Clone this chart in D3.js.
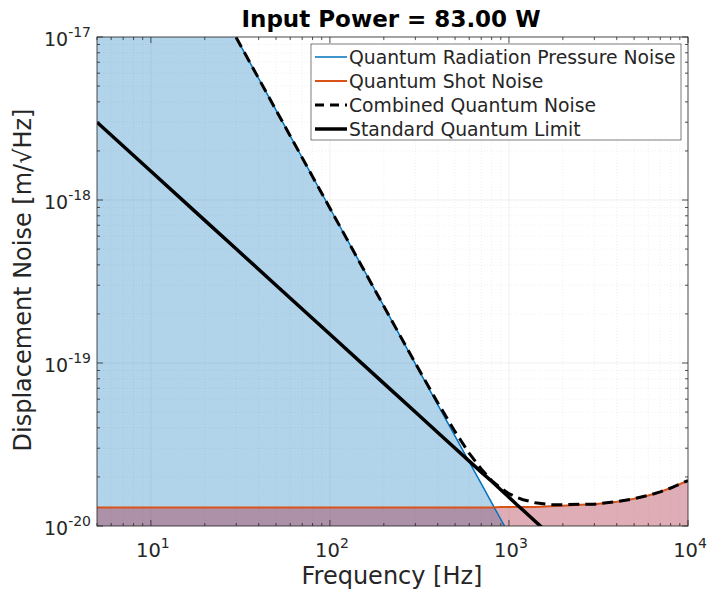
<!DOCTYPE html>
<head>
<meta charset="utf-8">
<title>Quantum Noise</title>
<script src="https://d3js.org/d3.v7.min.js"></script>
<style>
  body { margin: 0; background: #fff; }
  text { font-family: "DejaVu Sans", "Liberation Sans", sans-serif; fill: #262626; }
</style>
</head>
<body>
<div id="my_dataviz"></div>
<script>

// frequencies [Hz] where the curves were read
var freq = [5, 10, 20, 30, 50, 100, 200, 300, 400, 500, 600, 700, 800, 900, 1000,
            1100, 1200, 1400, 1700, 2000, 2500, 3000, 4000, 5000, 6000, 7000, 8000, 10000];

// quantum radiation pressure noise [m/sqrt(Hz)]
var radPressure = [3.56e-16, 8.90e-17, 2.23e-17, 9.89e-18, 3.56e-18, 8.90e-19, 2.23e-19, 9.89e-20,
                   5.56e-20, 3.56e-20, 2.47e-20, 1.82e-20, 1.39e-20, 1.10e-20, 8.90e-21,
                   7.36e-21, 6.18e-21, 4.54e-21, 3.08e-21, 2.23e-21, 1.42e-21, 9.9e-22,
                   5.6e-22, 3.6e-22, 2.5e-22, 1.8e-22, 1.4e-22, 8.9e-23];

// quantum shot noise
var shotNoise = [1.30e-20, 1.30e-20, 1.30e-20, 1.30e-20, 1.30e-20, 1.30e-20, 1.30e-20, 1.30e-20,
                 1.30e-20, 1.30e-20, 1.30e-20, 1.30e-20, 1.30e-20, 1.31e-20, 1.31e-20,
                 1.31e-20, 1.31e-20, 1.31e-20, 1.32e-20, 1.33e-20, 1.35e-20, 1.36e-20,
                 1.41e-20, 1.47e-20, 1.54e-20, 1.62e-20, 1.71e-20, 1.90e-20];

// combined quantum noise
var combined = [3.56e-16, 8.90e-17, 2.23e-17, 9.89e-18, 3.56e-18, 8.90e-19, 2.23e-19, 9.97e-20,
                5.71e-20, 3.79e-20, 2.79e-20, 2.24e-20, 1.90e-20, 1.71e-20, 1.58e-20,
                1.50e-20, 1.45e-20, 1.39e-20, 1.35e-20, 1.35e-20, 1.36e-20, 1.36e-20,
                1.41e-20, 1.47e-20, 1.54e-20, 1.62e-20, 1.71e-20, 1.90e-20];

// standard quantum limit
var sql = [3.0e-18, 1.5e-18, 7.5e-19, 5.0e-19, 3.0e-19, 1.5e-19, 7.5e-20, 5.0e-20,
           3.75e-20, 3.0e-20, 2.5e-20, 2.14e-20, 1.88e-20, 1.67e-20, 1.5e-20,
           1.36e-20, 1.25e-20, 1.07e-20, 8.8e-21, 7.5e-21, 6.0e-21, 5.0e-21,
           3.75e-21, 3.0e-21, 2.5e-21, 2.14e-21, 1.88e-21, 1.5e-21];

var xTicks = [10, 100, 1000, 10000];
var xExp = ["1", "2", "3", "4"];
var yTicks = [1e-20, 1e-19, 1e-18, 1e-17];
var yExp = ["-20", "-19", "-18", "-17"];

var legendNames = ["Quantum Radiation Pressure Noise", "Quantum Shot Noise",
                   "Combined Quantum Noise", "Standard Quantum Limit"];

var W = 709, H = 591;
var pL = 97, pR = 688, pT = 37, pB = 526;

var svg = d3.select("#my_dataviz").append("svg")
    .attr("width", W).attr("height", H);

var x = d3.scaleLog().domain([5, 10000]).range([pL, pR]);
var y = d3.scaleLog().domain([1e-20, 1e-17]).range([pB, pT]);

svg.append("clipPath").attr("id", "clip")
  .append("rect").attr("x", pL).attr("y", pT)
    .attr("width", pR - pL).attr("height", pB - pT);

var data = freq.map(function(f, i) {
  return { f: f, rp: radPressure[i], sn: shotNoise[i], c: combined[i], s: sql[i] };
});

// minor tick positions
var xMinor = [], yMinor = [];
[1, 10, 100, 1000].forEach(function(d) {
  for (var k = 2; k <= 9; k++) { var v = d * k; if (v >= 5 && v < 10000) xMinor.push(v); }
});
[1e-20, 1e-19, 1e-18].forEach(function(d) {
  for (var k = 2; k <= 9; k++) yMinor.push(d * k);
});

// grid (very faint, like the reference)
var grid = svg.append("g");
grid.selectAll(".gxm").data(xMinor).enter().append("line")
  .attr("x1", function(d) { return x(d); }).attr("x2", function(d) { return x(d); })
  .attr("y1", pT).attr("y2", pB)
  .attr("stroke", "#262626").attr("stroke-opacity", 0.07).attr("stroke-dasharray", "1,2");
grid.selectAll(".gym").data(yMinor).enter().append("line")
  .attr("y1", function(d) { return y(d); }).attr("y2", function(d) { return y(d); })
  .attr("x1", pL).attr("x2", pR)
  .attr("stroke", "#262626").attr("stroke-opacity", 0.07).attr("stroke-dasharray", "1,2");
grid.selectAll(".gx").data(xTicks).enter().append("line")
  .attr("x1", function(d) { return x(d); }).attr("x2", function(d) { return x(d); })
  .attr("y1", pT).attr("y2", pB)
  .attr("stroke", "#262626").attr("stroke-opacity", 0.07);
grid.selectAll(".gy").data(yTicks).enter().append("line")
  .attr("y1", function(d) { return y(d); }).attr("y2", function(d) { return y(d); })
  .attr("x1", pL).attr("x2", pR)
  .attr("stroke", "#262626").attr("stroke-opacity", 0.07);

var plot = svg.append("g").attr("clip-path", "url(#clip)");

// filled areas
var areaRP = d3.area().x(function(d) { return x(d.f); })
  .y0(pB).y1(function(d) { return y(d.rp); });
var areaSN = d3.area().x(function(d) { return x(d.f); })
  .y0(pB).y1(function(d) { return y(d.sn); });

plot.append("path").datum(data).attr("d", areaRP)
  .attr("fill", "#0072BD").attr("fill-opacity", 0.3);
plot.append("path").datum(data).attr("d", areaSN)
  .attr("fill", "#A2142F").attr("fill-opacity", 0.35);

function lineOf(key) {
  return d3.line().x(function(d) { return x(d.f); }).y(function(d) { return y(d[key]); });
}

plot.append("path").datum(data).attr("d", lineOf("rp"))
  .attr("fill", "none").attr("stroke", "#0072BD").attr("stroke-width", 1.5);
plot.append("path").datum(data).attr("d", lineOf("sn"))
  .attr("fill", "none").attr("stroke", "#D95319").attr("stroke-width", 2);
plot.append("path").datum(data).attr("d", lineOf("c"))
  .attr("fill", "none").attr("stroke", "#000").attr("stroke-width", 3)
  .attr("stroke-dasharray", "11,6");
plot.append("path").datum(data).attr("d", lineOf("s"))
  .attr("fill", "none").attr("stroke", "#000").attr("stroke-width", 3.5);

// axes (ticks pointing inward, on all four sides)
function drawTicks(vals, len) {
  vals.forEach(function(v) {
    var px = x(v);
    svg.append("line").attr("x1", px).attr("x2", px).attr("y1", pB).attr("y2", pB - len)
      .attr("stroke", "#262626").attr("stroke-width", 0.8);
    svg.append("line").attr("x1", px).attr("x2", px).attr("y1", pT).attr("y2", pT + len)
      .attr("stroke", "#262626").attr("stroke-width", 0.8);
  });
}
function drawYTicks(vals, len) {
  vals.forEach(function(v) {
    var py = y(v);
    svg.append("line").attr("x1", pL).attr("x2", pL + len).attr("y1", py).attr("y2", py)
      .attr("stroke", "#262626").attr("stroke-width", 0.8);
    svg.append("line").attr("x1", pR).attr("x2", pR - len).attr("y1", py).attr("y2", py)
      .attr("stroke", "#262626").attr("stroke-width", 0.8);
  });
}
drawTicks(xTicks, 6);
drawTicks(xMinor, 3);
drawYTicks(yTicks, 6);
drawYTicks(yMinor, 3);

svg.append("rect").attr("x", pL).attr("y", pT)
  .attr("width", pR - pL).attr("height", pB - pT)
  .attr("fill", "none").attr("stroke", "#262626").attr("stroke-width", 0.8);

// x tick labels
xTicks.forEach(function(v, i) {
  var t = svg.append("text").attr("x", x(v) + 2).attr("y", 557)
    .attr("text-anchor", "middle").style("font-size", "19.5px");
  t.append("tspan").text("10");
  t.append("tspan").attr("dy", -9).style("font-size", "14px").text(xExp[i]);
});

// y tick labels
yTicks.forEach(function(v, i) {
  var t = svg.append("text").attr("x", 91).attr("y", y(v) + 9)
    .attr("text-anchor", "end").style("font-size", "19px");
  t.append("tspan").text("10");
  t.append("tspan").attr("dy", -9).style("font-size", "14px").text(yExp[i]);
});

// labels
svg.append("text").attr("x", 392).attr("y", 584)
  .attr("text-anchor", "middle").style("font-size", "24px").text("Frequency [Hz]");
svg.append("text")
  .attr("transform", "translate(31,280) rotate(-90)")
  .attr("text-anchor", "middle").style("font-size", "24px")
  .text("Displacement Noise [m/\u221AHz]");
svg.append("text").attr("x", 391).attr("y", 27)
  .attr("text-anchor", "middle").style("font-size", "23px").style("font-weight", "bold")
  .style("fill", "#000").text("Input Power = 83.00 W");

// legend
var lg = svg.append("g");
lg.append("rect").attr("x", 311).attr("y", 44).attr("width", 370).attr("height", 96)
  .attr("fill", "#fff").attr("stroke", "#262626").attr("stroke-width", 0.6);
var legStyle = [
  { c: "#0072BD", w: 1.5, dash: null },
  { c: "#D95319", w: 2, dash: null },
  { c: "#000", w: 3, dash: "9,6" },
  { c: "#000", w: 3.5, dash: null }
];
legendNames.forEach(function(name, i) {
  var cy = 57 + i * 24;
  var ln = lg.append("line").attr("x1", 315).attr("x2", 347).attr("y1", cy).attr("y2", cy)
    .attr("stroke", legStyle[i].c).attr("stroke-width", legStyle[i].w);
  if (legStyle[i].dash) ln.attr("stroke-dasharray", legStyle[i].dash);
  lg.append("text").attr("x", 349).attr("y", cy + 6.5).style("font-size", "18.8px").text(name);
});

</script>
</body>
